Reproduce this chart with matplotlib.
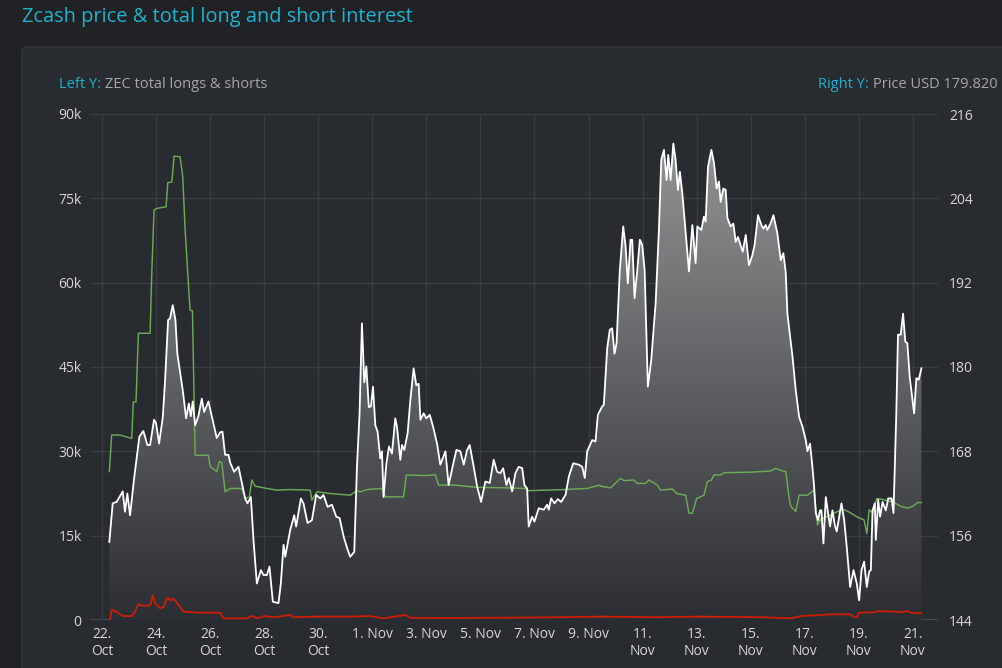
import numpy as np
import pandas as pd
import matplotlib
matplotlib.use("Agg")
import matplotlib.pyplot as plt
import matplotlib.dates as mdates
from matplotlib.patches import FancyBboxPatch, Polygon

# ---------------- data ----------------
START = "2021-10-22 00:00"

price_hours = [6.5, 9.5, 13, 18.4, 20.4, 22.5, 24.9, 28.7, 33.2, 36.7, 40.3, 42.7, 46.2, 48, 50.7, 54, 56, 58.7,
               60.4, 62.8, 65.2, 66.9, 71.7, 74.7, 77.1, 78.8, 80.6, 82.7, 85.6, 88.6, 90.7, 94.5, 98.9, 101.9,
               104.9, 107, 109.3, 112.3, 113.8, 117.3, 121.2, 124.2, 127.1, 129.2, 132.2, 134.5, 137.5, 141.1,
               143.4, 146.4, 148.7, 151.7, 156.7, 158.8, 161.2, 162.7, 167.1, 170.7, 172.4, 176.6, 178.9, 182.5,
               186.4, 190.2, 193.8, 196.7, 200.3, 204.2, 208, 211, 214.5, 218.1, 220.4, 224, 226.4, 228.7, 230.8,
               232.9, 234.7, 236.9, 238.8, 240.6, 242.7, 244.7, 247.1, 248.6, 250, 252.4, 254.8, 257.5, 260.4,
               261.9, 264.9, 266.4, 268.4, 271.4, 273.8, 276.7, 279.1, 281.2, 282.7, 285.6, 288, 291, 294, 297.5,
               300.4, 304.9, 307.8, 311.7, 314.7, 318.2, 321.2, 324.2, 326.5, 329.5, 333.1, 336.6, 340.4, 344.3,
               347.8, 350.8, 353.8, 356.2, 359.1, 361.2, 364.2, 367.1, 370, 373.1, 375.1, 377.5, 378.9, 381.9,
               384, 387.8, 392.3, 395.3, 396.7, 398.8, 401.8, 404.7, 407.7, 411.6, 414.5, 418.4, 423.4, 426.4,
               428.7, 430.8, 435.3, 438.2, 440.3, 444.2, 445.6, 448.6, 450.9, 453, 455.1, 456.9, 459.8, 462.8,
               464.9, 466.9, 469.3, 470.8, 472.9, 475.3, 477.6, 479.7, 481.8, 484.7, 487.7, 491.6, 494.5, 496.6,
               499, 501.3, 502.8, 504.9, 507.3, 509.3, 511.4, 513.1, 515.3, 517.3, 521.2, 524.2, 527.1, 528.6,
               532.2, 534.5, 536, 538.1, 541.1, 543.4, 545.8, 547.8, 549.3, 551.7, 553.8, 555.3, 558.2, 560.6,
               562.7, 564.7, 566.5, 568.9, 571.6, 574.5, 577.5, 579.5, 582.5, 585.5, 587.3, 589.3, 590.8, 593.8,
               596.2, 599.7, 602.7, 605, 607.1, 608.6, 613.1, 616, 619, 622, 624.9, 626.4, 628.7, 630.8, 632.3,
               633.8, 635.8, 637.6, 638.8, 640.6, 642.7, 644.7, 646.5, 648.6, 650.7, 652.4, 656.6, 659, 661.3,
               664.3, 667.3, 670.2, 672.3, 674.4, 676.7, 679.1, 681.2, 682.7, 684.2, 686.2, 687.1, 689.2, 690.9,
               693.1, 696, 698.1, 701.1, 702.8, 705.3, 706.8, 709.2, 711.3, 713.3, 715.1, 717.2, 721.1, 723.1,
               725.2, 727.6]
price_usd = [155.1, 160.6, 160.8, 162.3, 159.4, 162.0, 158.9, 164.4, 170.1, 170.9, 168.9, 168.9, 172.5, 172.0, 169.1,
             172.9, 178.1, 186.7, 186.9, 188.8, 186.7, 181.9, 176.7, 172.7, 174.8, 173.0, 175.1, 171.7, 173.0, 175.5,
             173.6, 175.1, 172.0, 169.9, 170.7, 170.8, 167.5, 167.5, 166.4, 165.1, 165.8, 163.5, 161.3, 160.6, 161.5,
             155.4, 149.2, 151.1, 150.4, 150.4, 151.6, 146.6, 146.4, 149.2, 154.7, 153.0, 156.8, 158.9, 157.3, 161.3,
             160.6, 157.8, 158.2, 161.8, 161.3, 161.8, 160.1, 160.4, 158.7, 158.5, 155.9, 154.0, 153.0, 153.7, 165.8,
             173.4, 186.2, 177.8, 180.1, 174.3, 174.4, 177.2, 171.7, 170.8, 167.0, 168.0, 161.5, 166.1, 168.7, 167.7,
             172.7, 171.5, 166.8, 168.9, 168.2, 170.6, 175.3, 179.8, 177.4, 177.6, 172.5, 173.4, 172.7, 173.2, 171.5,
             169.1, 166.1, 168.0, 163.2, 166.1, 168.2, 168.0, 166.1, 168.2, 168.9, 166.3, 163.0, 160.8, 163.7, 163.5,
             166.8, 165.1, 164.9, 165.6, 163.2, 164.2, 162.3, 164.9, 165.8, 165.6, 163.2, 162.7, 157.3, 158.7, 158.0,
             159.9, 159.7, 160.4, 159.7, 161.3, 160.6, 161.2, 160.8, 161.8, 164.4, 166.3, 166.1, 165.8, 164.2, 168.0,
             169.6, 169.4, 173.2, 174.4, 174.6, 182.7, 185.3, 185.5, 181.9, 183.4, 193.8, 200.0, 197.2, 191.9, 198.1,
             198.1, 189.8, 193.8, 198.1, 197.4, 193.8, 177.2, 181.0, 189.1, 199.5, 209.5, 210.9, 206.6, 210.2, 206.6,
             211.8, 209.5, 205.2, 207.8, 204.7, 200.9, 193.6, 200.2, 194.8, 200.0, 199.5, 201.4, 200.7, 208.5, 210.9,
             209.0, 205.4, 206.4, 203.5, 205.4, 205.2, 201.2, 200.0, 200.4, 197.8, 198.5, 197.6, 196.4, 198.8, 194.5,
             195.9, 197.4, 201.6, 200.2, 199.7, 200.2, 199.5, 200.5, 201.6, 199.0, 195.2, 196.2, 193.5, 187.6, 181.5,
             176.7, 172.9, 171.5, 169.6, 168.0, 169.1, 165.8, 163.0, 159.2, 158.2, 159.6, 159.6, 154.9, 161.5, 159.2,
             157.3, 159.6, 157.5, 156.6, 160.6, 158.2, 154.4, 148.7, 151.1, 149.2, 146.8, 151.1, 152.3, 148.7, 150.9,
             151.1, 159.6, 160.6, 155.4, 161.1, 158.7, 160.8, 159.6, 161.3, 161.3, 159.2, 173.4, 184.6, 184.6, 187.6,
             183.6, 183.4, 178.6, 173.4, 178.4, 178.2, 179.82]

oi_hours = [6.5, 8.6, 16, 26.4, 27.8, 30.2, 32.3, 42.7, 44.2, 46.2, 48.6, 56.9, 58.4, 62, 64, 69.3, 71.7, 73.8, 76.7,
            78.2, 80.3, 81.8, 82.7, 89.8, 94.5, 96, 101.9, 104.3, 106.4, 109.3, 113.8, 124.2, 127.1, 130.9, 133, 136,
            146.4, 155.3, 167.1, 184.9, 186.4, 190.8, 202.7, 220.4, 226.4, 229.3, 235.3, 248.6, 251.6, 267.8, 270.2,
            285.6, 296, 298.9, 312.3, 333.1, 359.7, 376, 378.9, 395.3, 410, 430.8, 442, 442.7, 451.6, 460.4, 463.4,
            472.3, 475.3, 482.7, 485.6, 493.1, 496, 506.4, 510.2, 518.2, 521.2, 524.2, 528, 534.5, 537.5, 541.1,
            543.4, 549.3, 552.3, 576, 584.9, 593.8, 598.2, 602.7, 607.1, 610, 611.6, 616, 619, 626.4, 632.3, 635.3,
            638.2, 644.2, 653.1, 659, 663.4, 670.8, 676.7, 679.1, 681.2, 684.2, 688, 691.6, 702, 705, 709.3, 715.3,
            719.7, 724.2, 727.6]
oi_total_k = [26.4, 32.9, 32.9, 32.3, 38.8, 38.8, 51.0, 51.0, 61.7, 72.9, 73.2, 73.5, 77.8, 77.9, 82.5, 82.4, 78.9,
              69.4, 59.9, 55.1, 55.0, 39.1, 29.3, 29.3, 29.3, 27.3, 26.4, 28.2, 28.0, 22.8, 23.4, 23.4, 21.6, 21.9,
              24.9, 23.8, 23.4, 23.1, 23.2, 23.1, 21.3, 22.8, 22.5, 22.2, 23.0, 22.8, 23.2, 23.4, 21.9, 21.9, 25.8,
              25.7, 25.8, 24.0, 24.0, 23.6, 23.5, 23.4, 23.0, 23.1, 23.2, 23.4, 24.0, 23.8, 23.5, 25.2, 24.8, 24.9,
              24.3, 24.3, 24.9, 24.0, 23.1, 23.3, 22.5, 22.2, 19.0, 19.0, 21.6, 22.2, 24.6, 24.9, 25.8, 25.8, 26.2,
              26.3, 26.4, 26.5, 27.0, 26.6, 26.4, 21.9, 20.2, 19.3, 22.2, 22.2, 23.1, 16.9, 17.9, 18.4, 19.3, 19.6,
              19.2, 18.3, 17.8, 15.4, 19.6, 19.1, 21.6, 21.5, 21.0, 20.7, 20.2, 19.9, 20.2, 20.9, 20.9]

red_hours = [7.1, 8.6, 11.6, 18.9, 26.4, 29.3, 32.3, 36.7, 42.7, 45.1, 47.1, 51.6, 54.5, 58.1, 61.1, 63.4, 67.8,
             72.3, 87.1, 104.9, 107.8, 128.6, 133, 138.9, 143.4, 152.3, 161.2, 166.5, 170, 190.8, 220.4, 238.2,
             250, 269.3, 273.8, 294.5, 353.8, 407, 442.7, 491.6, 531.6, 585, 611.6, 620.4, 647.1, 664.9, 667.6,
             670.2, 672.3, 687.1, 688.9, 703.1, 709.3, 714.7, 718.2, 727.6]
red_k = [0.0, 1.8, 1.6, 0.7, 0.7, 1.5, 2.8, 2.5, 2.6, 4.4, 3.0, 2.1, 2.3, 4.0, 3.5, 3.8, 2.7, 1.5, 1.3, 1.3, 0.3,
         0.3, 0.7, 0.3, 0.7, 0.5, 0.7, 0.95, 0.5, 0.6, 0.6, 0.7, 0.3, 0.9, 0.4, 0.35, 0.4, 0.5, 0.6, 0.5, 0.6, 0.5,
         0.3, 0.7, 1.0, 1.0, 0.5, 0.5, 1.3, 1.4, 1.6, 1.5, 1.4, 1.6, 1.3, 1.2]

tick_labels = ["22.\nOct", "24.\nOct", "26.\nOct", "28.\nOct", "30.\nOct", "1. Nov", "3. Nov", "5. Nov",
               "7. Nov", "9. Nov", "11.\nNov", "13.\nNov", "15.\nNov", "17.\nNov", "19.\nNov", "21.\nNov"]
left_ticks = [0, 15, 30, 45, 60, 75, 90]
left_tick_labels = ["0", "15k", "30k", "45k", "60k", "75k", "90k"]
right_ticks = [144, 156, 168, 180, 192, 204, 216]
last_price = "179.820"

# ---------------- style ----------------
FONT = ["Open Sans", "DejaVu Sans"]
plt.rcParams['font.family'] = FONT
BG = "#202226"
PANEL = "#282b30"
GRID = "#393c41"
CYAN = "#1fb2cc"
TXT = "#d6d6d6"
SUB = "#a5a7aa"

W, H = 1002, 668
fig = plt.figure(figsize=(W / 100, H / 100), dpi=100, facecolor=BG)


def fx(px):
    return px / W


def fy(py):
    return 1 - py / H


panel = FancyBboxPatch((fx(22), fy(700)), fx(1040) - fx(22), fy(47) - fy(700),
                       boxstyle="round,pad=0,rounding_size=0.006", transform=fig.transFigure,
                       facecolor=PANEL, edgecolor="#34373c", linewidth=1.0, zorder=-5)
fig.patches.append(panel)

fig.text(fx(22), fy(17), "Zcash price & total long and short interest", color=CYAN,
         fontsize=14.4, va="center", ha="left")

renderer = fig.canvas.get_renderer()
t1 = fig.text(fx(59), fy(85), "Left Y:", color=CYAN, fontsize=10.5, va="center", ha="left")
bb = t1.get_window_extent(renderer)
fig.text(fx(bb.x1 + 4), fy(85), "ZEC total longs & shorts", color=SUB, fontsize=10.5, va="center", ha="left")
t_r = fig.text(fx(998), fy(85), "Price USD " + last_price, color=SUB, fontsize=10.5, va="center", ha="right")
bb = t_r.get_window_extent(renderer)
fig.text(fx(bb.x0 - 4), fy(85), "Right Y:", color=CYAN, fontsize=10.5, va="center", ha="right")

ax = fig.add_axes([fx(90), fy(620), fx(938) - fx(90), fy(114) - fy(620)])
ax.set_facecolor("none")
ax2 = ax.twinx()

start = pd.Timestamp(START)
t_price = mdates.date2num((start + pd.to_timedelta(price_hours, unit="h")).to_pydatetime())
t_oi = mdates.date2num((start + pd.to_timedelta(oi_hours, unit="h")).to_pydatetime())
t_red = mdates.date2num((start + pd.to_timedelta(red_hours, unit="h")).to_pydatetime())

x0 = mdates.date2num(start.to_pydatetime())
xlim = (x0 - 0.444, x0 + 30.93)

ax.set_xlim(*xlim)
ax.set_ylim(0, 90)
ax2.set_ylim(144, 216)

# gradient area for price
verts = [(t_price[0], 144)] + list(zip(t_price, price_usd)) + [(t_price[-1], 144)]
poly = Polygon(verts, closed=True, facecolor="none", edgecolor="none", transform=ax2.transData)
ax2.add_patch(poly)
n = 256
top = np.array([0.60, 0.60, 0.60])
bot = np.array([0.17, 0.18, 0.20])
frac = np.linspace(1, 0, n)[:, None]
grad = (bot + (top - bot) * frac)[:, None, :] * np.ones((1, 2, 1))
im = ax2.imshow(grad, extent=[xlim[0], xlim[1], 144, 216], aspect="auto", origin="upper",
                zorder=1, interpolation="bilinear")
im.set_clip_path(poly)
ax2.set_xlim(*xlim)
ax2.set_ylim(144, 216)

# left-axis series drawn above the price area, using the left axis scale
ax2.plot(t_oi, oi_total_k, color="#6caa57", lw=1.05, zorder=3, transform=ax.transData)
ax2.plot(t_red, red_k, color="#c81e0a", lw=1.35, zorder=3, transform=ax.transData)
ax2.plot(t_price, price_usd, color="#ffffff", lw=1.3, zorder=4)

# axes styling
ticks = [x0 + 2 * k for k in range(len(tick_labels))]
ax.set_xticks(ticks)
ax.set_xticklabels(tick_labels, color=TXT, fontsize=10, linespacing=1.15, va="top")
ax.set_yticks(left_ticks)
ax.set_yticklabels(left_tick_labels, color=TXT, fontsize=10)
ax2.set_yticks(right_ticks)
ax2.set_yticklabels([str(v) for v in right_ticks], color=TXT, fontsize=10)
ax.tick_params(axis="both", length=0, pad=6)
ax.tick_params(axis="x", pad=5)
ax2.tick_params(axis="y", length=0, pad=8)
ax.grid(True, color=GRID, lw=1.0)
ax.set_axisbelow(True)
for a in (ax, ax2):
    for s in a.spines.values():
        s.set_visible(False)
ax.axhline(0, color="#505358", lw=1.2, zorder=0.5)

fig.savefig("out.png", dpi=100, facecolor=BG)
